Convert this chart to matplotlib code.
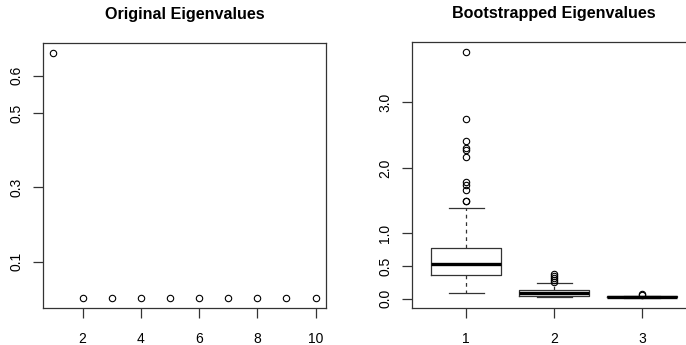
import matplotlib
matplotlib.use("Agg")
import matplotlib.pyplot as plt

plt.rcParams['font.family'] = ['Liberation Sans', 'DejaVu Sans']

# Left panel: original eigenvalues
orig_idx = [1, 2, 3, 4, 5, 6, 7, 8, 9, 10]
orig_vals = [0.662, 0.002, 0.002, 0.002, 0.002, 0.002, 0.002, 0.002, 0.002, 0.002]
left_xticks = [2, 4, 6, 8, 10]
left_yticks = [0.1, 0.3, 0.5, 0.6]

# Right panel: bootstrapped eigenvalue box statistics
box_labels = ['1', '2', '3']
box_q1 = [0.357, 0.05, 0.02]
box_med = [0.536, 0.085, 0.03]
box_q3 = [0.78, 0.13, 0.04]
box_wlo = [0.096, 0.025, 0.01]
box_whi = [1.393, 0.24, 0.05]
box_fliers = [
    [1.494, 1.50, 1.668, 1.745, 1.78, 2.158, 2.27, 2.296, 2.41, 2.745, 3.775],
    [0.26, 0.29, 0.32, 0.35, 0.38],
    [0.065, 0.07],
]
right_yticks = [0.0, 0.5, 1.0, 2.0, 3.0]

fig = plt.figure(figsize=(6.86, 3.45), dpi=100)
lc = '#333333'

ax1 = fig.add_axes([0.0627, 0.1072, 0.4125, 0.7682])
ax1.plot(orig_idx, orig_vals, 'o', mfc='none', mec='black', ms=4.6, mew=0.8)
xr = max(orig_idx) - min(orig_idx)
ax1.set_xlim(min(orig_idx) - 0.04 * xr, max(orig_idx) + 0.04 * xr)
yr = max(orig_vals) - min(orig_vals)
ax1.set_ylim(min(orig_vals) - 0.04 * yr, max(orig_vals) + 0.04 * yr)
ax1.set_xticks(left_xticks)
ax1.set_yticks(left_yticks)
ax1.set_yticklabels([f"{v:.1f}" for v in left_yticks], rotation=90, va='center')
ax1.set_title("Original Eigenvalues", fontsize=11.6, fontweight='bold', pad=17.5)

ax2 = fig.add_axes([0.600, 0.1072, 0.4155, 0.7719])
stats = []
for i in range(len(box_labels)):
    stats.append(dict(med=box_med[i], q1=box_q1[i], q3=box_q3[i],
                      whislo=box_wlo[i], whishi=box_whi[i],
                      fliers=box_fliers[i], label=box_labels[i]))
ax2.bxp(stats, positions=[1, 2, 3], widths=0.8, capwidths=0.4,
        boxprops=dict(color=lc, lw=0.9),
        medianprops=dict(color='black', lw=2.4),
        whiskerprops=dict(color=lc, lw=0.9, ls=(0, (3, 3))),
        capprops=dict(color=lc, lw=0.9),
        flierprops=dict(marker='o', mfc='none', mec='black', ms=4.6, mew=0.8))
ax2.set_xlim(0.38, 3.62)
allv = [v for f in box_fliers for v in f] + box_wlo
yr2 = max(allv) - min(allv)
ax2.set_ylim(min(allv) - 0.04 * yr2, max(allv) + 0.04 * yr2)
ax2.set_yticks(right_yticks)
ax2.set_yticklabels([f"{v:.1f}" for v in right_yticks], rotation=90, va='center')
ax2.set_title("Bootstrapped Eigenvalues", fontsize=11.6, fontweight='bold', pad=17)

for ax in (ax1, ax2):
    for s in ax.spines.values():
        s.set_color(lc)
        s.set_linewidth(0.9)
    ax.tick_params(axis='both', direction='out', length=7, width=0.9, color=lc,
                   labelsize=10, labelcolor='black')
    ax.tick_params(axis='x', pad=10)
    ax.tick_params(axis='y', pad=7)

fig.savefig("out.png", dpi=100)
